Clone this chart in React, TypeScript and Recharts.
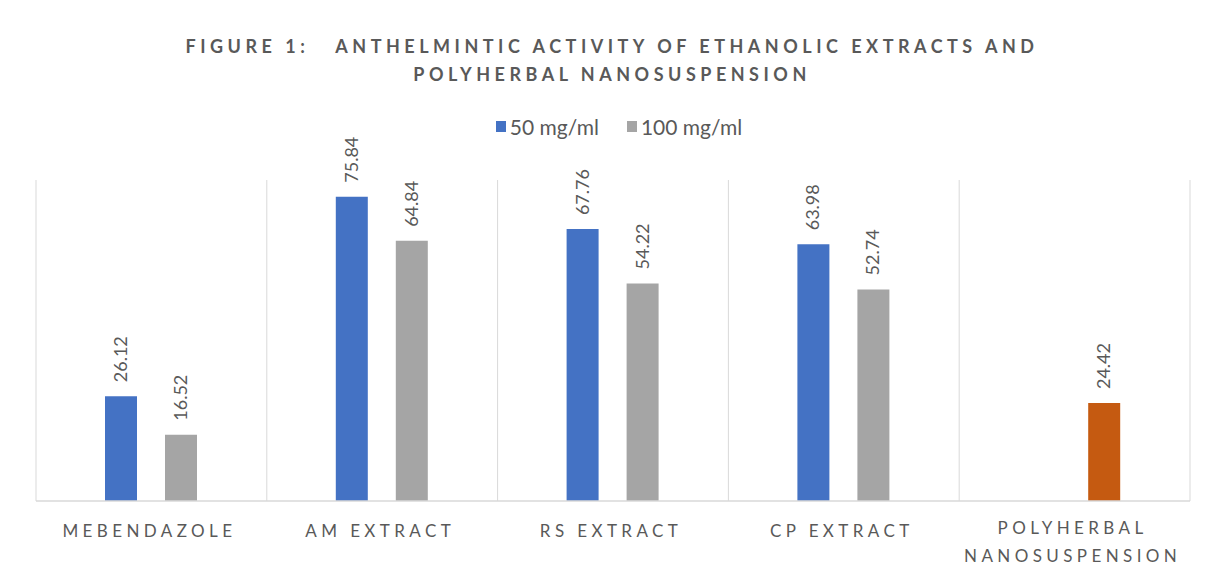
import { Bar, BarChart, CartesianGrid, Cell, LabelList, XAxis, YAxis } from "recharts";

const categories = [
	"MEBENDAZOLE",
	"AM EXTRACT",
	"RS EXTRACT",
	"CP EXTRACT",
	"POLYHERBAL NANOSUSPENSION",
];
const dose50: (number | null)[] = [26.12, 75.84, 67.76, 63.98, null];
const dose100: (number | null)[] = [16.52, 64.84, 54.22, 52.74, 24.42];
const dose100Colors = ["#A5A5A5", "#A5A5A5", "#A5A5A5", "#A5A5A5", "#C55A11"];
const seriesNames = ["50 mg/ml", "100 mg/ml"];
const seriesColors = ["#4472C4", "#A5A5A5"];

const TEXT = "#595959";
const GRID = "#D9D9D9";
const FONT = "Lato, 'Open Sans', sans-serif";

const data = categories.map((name, i) => ({
	name,
	d50: dose50[i],
	d100: dose100[i],
}));

const CategoryTick = (props: any) => {
	const { x, y, payload } = props;
	const label: string = payload.value;
	const lines = label.length > 14 ? label.split(" ") : [label];
	return (
		<g transform={`translate(${x},${y})`}>
			{lines.map((line, i) => (
				<text
					key={line}
					x={-2}
					y={lines.length > 1 ? 25 + i * 28 : 28}
					textAnchor="middle"
					fill={TEXT}
					fontFamily={FONT}
					fontSize={17}
					letterSpacing={4.4}
				>
					{line}
				</text>
			))}
		</g>
	);
};

const ValueLabel = (props: any) => {
	const { x, y, width, value } = props;
	if (value == null) return null;
	const cx = Number(x) + Number(width) / 2 + 6;
	const cy = Number(y) - 14;
	return (
		<text
			x={cx}
			y={cy}
			transform={`rotate(-90, ${cx}, ${cy})`}
			textAnchor="start"
			fill={TEXT}
			fontFamily={FONT}
			fontSize={18}
		>
			{value}
		</text>
	);
};

export default function App() {
	return (
		<div
			style={{
				position: "relative",
				width: 1206,
				height: 582,
				marginLeft: -8,
				marginTop: -8,
				overflow: "hidden",
				background: "#fff",
			}}
		>
			<div
				style={{
					position: "absolute",
					left: 0,
					top: 32,
					width: 1224,
					textAlign: "center",
					fontFamily: FONT,
					fontWeight: 700,
					fontSize: 18,
					letterSpacing: 4.5,
					lineHeight: "28px",
					color: TEXT,
					whiteSpace: "pre",
				}}
			>
				{"FIGURE 1:   ANTHELMINTIC ACTIVITY OF ETHANOLIC EXTRACTS AND\nPOLYHERBAL NANOSUSPENSION"}
			</div>
			<div
				style={{
					position: "absolute",
					left: 0,
					top: 114,
					width: 1238,
					display: "flex",
					justifyContent: "center",
					gap: 28,
					fontFamily: FONT,
					fontSize: 21,
					color: TEXT,
				}}
			>
				{seriesNames.map((name, i) => (
					<div key={name} style={{ display: "flex", alignItems: "center", gap: 4 }}>
						<span style={{ width: 10, height: 11, background: seriesColors[i], display: "inline-block" }} />
						<span>{name}</span>
					</div>
				))}
			</div>
			<div style={{ position: "absolute", left: 0, top: 0 }}>
				<BarChart
					width={1206}
					height={582}
					data={data}
					margin={{ top: 180, right: 16, bottom: 0, left: 36 }}
					barSize={32}
					barGap={28}
				>
					<CartesianGrid
						stroke={GRID}
						horizontal={false}
						verticalCoordinatesGenerator={({ offset }: any) =>
							categories
								.map((_, i) => offset.left + (i * offset.width) / categories.length)
								.concat(offset.left + offset.width)
						}
					/>
					<XAxis
						dataKey="name"
						interval={0}
						tickLine={false}
						axisLine={{ stroke: GRID, strokeWidth: 1.5 }}
						tick={<CategoryTick />}
						height={81}
					/>
					<YAxis hide domain={[0, 80]} width={0} />
					<Bar dataKey="d50" name={seriesNames[0]} fill={seriesColors[0]} isAnimationActive={false}>
						<LabelList dataKey="d50" content={<ValueLabel />} />
					</Bar>
					<Bar dataKey="d100" name={seriesNames[1]} fill={seriesColors[1]} isAnimationActive={false}>
						{data.map((d, i) => (
							<Cell key={d.name} fill={dose100Colors[i]} />
						))}
						<LabelList dataKey="d100" content={<ValueLabel />} />
					</Bar>
				</BarChart>
			</div>
			<div style={{ position: "absolute", left: 6, top: 6, width: 2, height: 580, background: "#D0D0D0" }} />
			<div style={{ position: "absolute", left: 6, top: 6, width: 1200, height: 2, background: "#D0D0D0" }} />
		</div>
	);
}
